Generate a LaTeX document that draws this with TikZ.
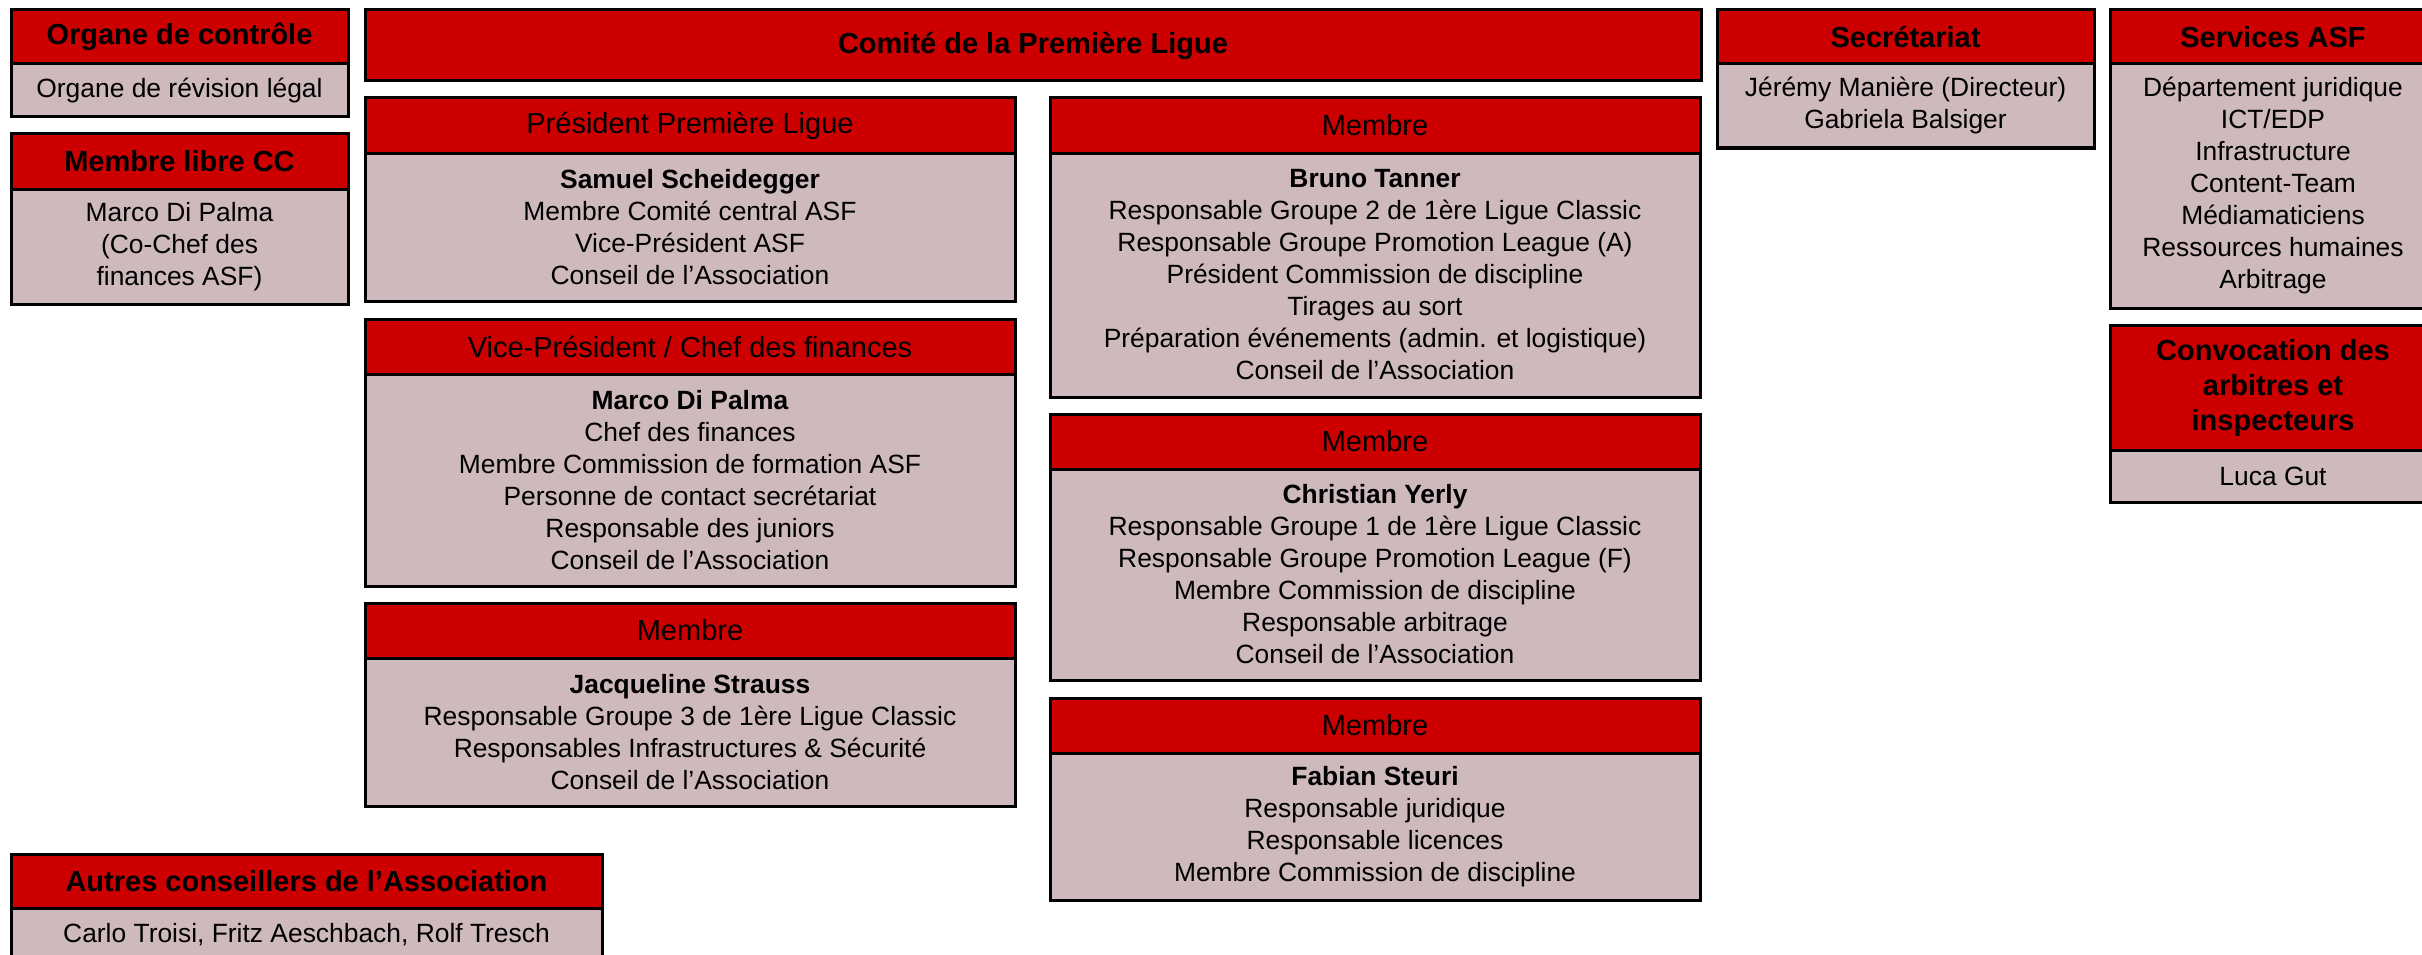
\documentclass[tikz,border=0pt]{standalone}
\usepackage{fontspec}
\setmainfont{Liberation Sans}
\usepackage{tikz}
\usetikzlibrary{positioning}

\definecolor{asfred}{RGB}{204,0,0}
\definecolor{asfgrey}{RGB}{206,185,189}

\tikzset{
    headbox/.style={draw=black, fill=asfred, line width=3pt, inner sep=0pt, outer sep=0pt,
        align=center, font=\fontsize{29}{35}\selectfont},
    bodybox/.style={draw=black, fill=asfgrey, line width=3pt, inner sep=0pt, outer sep=0pt,
        align=center, font=\fontsize{26.4}{32}\selectfont}
}

% name, x, y, width, head height, body height, title, body
\newcommand{\orgbox}[8]{
    \node[headbox, anchor=north west, minimum width=#4pt, minimum height=#5pt] (#1-head) at (#2,#3) {#7};
    \node[bodybox, below=0pt of #1-head, minimum width=#4pt, minimum height=#6pt] (#1-body) {#8};
}

\begin{document}
\begin{tikzpicture}[x=1pt,y=-1pt]
                \useasboundingbox (0,0) rectangle (2422,955);
                \path[clip] (0,0) rectangle (2422,955);

                % Left column
                \orgbox{ctrl}{11}{10}{337}{54}{53}{\textbf{Organe de contrôle}}{Organe de révision légal}
                \orgbox{libre}{11}{134}{337}{55}{115}{\textbf{Membre libre CC}}{Marco Di Palma\\(Co-Chef des\\finances ASF)}
                \orgbox{autres}{11}{854}{591}{54}{54}{\textbf{Autres conseillers de l’Association}}{Carlo Troisi, Fritz Aeschbach, Rolf Tresch}

                % Committee
                \node[headbox, anchor=north west, minimum width=1336pt, minimum height=71pt] (comite) at (365,10) {\textbf{Comité de la Première Ligue}};

                \orgbox{pres}{365}{98}{650}{55}{148}{Président Première Ligue}
                    {\textbf{Samuel Scheidegger}\\Membre Comité central ASF\\Vice-Président ASF\\Conseil de l’Association}
                \orgbox{vice}{365}{319}{650}{55}{212}{Vice-Président / Chef des finances}
                    {\textbf{Marco Di Palma}\\Chef des finances\\Membre Commission de formation ASF\\Personne de contact secrétariat\\Responsable des juniors\\Conseil de l’Association}
                \orgbox{jacq}{365}{603}{650}{55}{148}{Membre}
                    {\textbf{Jacqueline Strauss}\\Responsable Groupe 3 de 1ère Ligue Classic\\Responsables Infrastructures \& Sécurité\\Conseil de l’Association}

                \orgbox{bruno}{1050}{98}{650}{55}{244}{Membre}
                    {\textbf{Bruno Tanner}\\Responsable Groupe 2 de 1ère Ligue Classic\\Responsable Groupe Promotion League (A)\\Président Commission de discipline\\Tirages au sort\\Préparation événements (admin. et logistique)\\Conseil de l’Association}
                \orgbox{chris}{1050}{414}{650}{55}{211}{Membre}
                    {\textbf{Christian Yerly}\\Responsable Groupe 1 de 1ère Ligue Classic\\Responsable Groupe Promotion League (F)\\Membre Commission de discipline\\Responsable arbitrage\\Conseil de l’Association}
                \orgbox{fabian}{1050}{698}{650}{55}{147}{Membre}
                    {\textbf{Fabian Steuri}\\Responsable juridique\\Responsable licences\\Membre Commission de discipline}

                % Right columns
                \orgbox{secr}{1717}{10}{377}{54}{84}{\textbf{Secrétariat}}{Jérémy Manière (Directeur)\\Gabriela Balsiger}
                \orgbox{serv}{2110}{10}{326}{54}{244}{\textbf{Services ASF}}
                    {Département juridique\\ICT/EDP\\Infrastructure\\Content-Team\\Médiamaticiens\\Ressources humaines\\Arbitrage}
                \orgbox{conv}{2110}{325}{326}{125}{52}{\textbf{Convocation des}\\\textbf{arbitres et}\\\textbf{inspecteurs}}{Luca Gut}
\end{tikzpicture}
\end{document}
